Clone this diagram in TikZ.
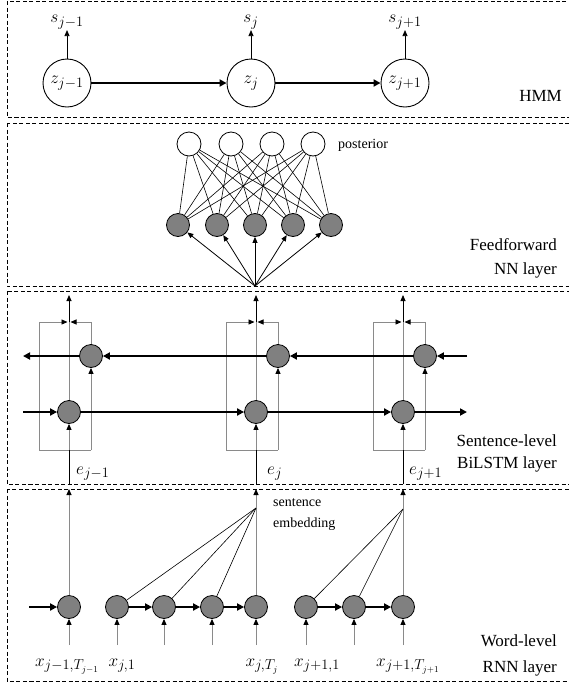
\documentclass[tikz,border=0pt]{standalone}
\usepackage{fontspec}
\setmainfont{Liberation Serif}
\usetikzlibrary{arrows.meta}
\definecolor{nodegray}{HTML}{808080}
\definecolor{linegray}{HTML}{8A8A8A}
\begin{document}
\begin{tikzpicture}[x=1pt,y=-1pt,
  layerbox/.style={draw, dash pattern=on 4pt off 2.5pt, line width=0.8pt},
  hmmnode/.style={circle, draw, line width=0.9pt, minimum size=48pt, inner sep=0pt, font=\fontsize{19}{22}\selectfont},
  gnode/.style={circle, draw, line width=0.8pt, fill=nodegray, minimum size=23pt, inner sep=0pt},
  wnode/.style={circle, draw, line width=0.8pt, fill=white, minimum size=24pt, inner sep=0pt},
  bigtxt/.style={font=\fontsize{17}{20}\selectfont, inner sep=0pt},
  smalltxt/.style={font=\fontsize{14}{17}\selectfont, inner sep=0pt},
  mlbl/.style={font=\fontsize{19}{22}\selectfont, inner sep=1pt},
  thickarr/.style={line width=2.4pt, -{Triangle[length=7pt,width=7pt]}},
  thinarr/.style={line width=0.8pt, -{Triangle[length=6pt,width=5pt,color=black]}},
  grayarr/.style={draw=linegray, line width=0.9pt, -{Triangle[length=6pt,width=5pt,color=black]}},
  grayline/.style={draw=linegray, line width=0.9pt},
  blkline/.style={line width=0.9pt},
  fanline/.style={line width=0.6pt},
]
\useasboundingbox (0,0) rectangle (569,683);

% layer boxes
\draw[layerbox] (7,1) rectangle (580,117);
\draw[layerbox] (7,123) rectangle (580,286);
\draw[layerbox] (7,291) rectangle (580,484);
\draw[layerbox] (7,489) rectangle (580,681);

% ---------------- HMM ----------------
\node[hmmnode] (z1) at (67,83) {$z_{j-1}$};
\node[hmmnode] (z2) at (251,83) {$z_j$};
\node[hmmnode] (z3) at (405,83) {$z_{j+1}$};
\node[mlbl] (s1) at (67,22) {$s_{j-1}$};
\node[mlbl] (s2) at (251,22) {$s_j$};
\node[mlbl] (s3) at (405,22) {$s_{j+1}$};
\draw[thinarr] (z1) -- (s1);
\draw[thinarr] (z2) -- (s2);
\draw[thinarr] (z3) -- (s3);
\draw[thickarr] (z1) -- (z2);
\draw[thickarr] (z2) -- (z3);
\node[bigtxt, anchor=base east] (hmm) at (562,101) {HMM};

% ---------------- Feedforward ----------------
\foreach \i/\x in {1/189,2/231,3/272,4/313} \node[wnode] (p\i) at (\x,144) {};
\foreach \i/\x in {1/178,2/217,3/255,4/293,5/331} \node[gnode] (h\i) at (\x,225) {};
\foreach \i in {1,...,4} \foreach \k in {1,...,5} \draw[fanline] (p\i) -- (h\k);
\coordinate (ffin) at (255,286);
\foreach \k in {1,...,5} \draw[thinarr] (ffin) -- (h\k);
\node[smalltxt, anchor=base west] (post) at (338,148) {posterior};
\node[bigtxt, anchor=base east] (ff1) at (557,250) {Feedforward};
\node[bigtxt, anchor=base east] (ff2) at (557,274) {NN layer};

% ---------------- BiLSTM ----------------
\foreach \c/\n in {69/1,256/2,403/3} {
  \coordinate (top\n) at (\c,295);
  \coordinate (tl\n) at (\c-30,322);
  \coordinate (tml\n) at (\c-1.5,322);
  \coordinate (tmr\n) at (\c+1.5,322);
  \coordinate (tm\n) at (\c,322);
  \coordinate (tr\n) at (\c+22,322);
  \coordinate (bl\n) at (\c-30,450);
  \coordinate (bm\n) at (\c,450);
  \coordinate (br\n) at (\c+22,450);
  \coordinate (in\n) at (\c,484);
  \node[gnode] (F\n) at (\c,412) {};
  \node[gnode] (B\n) at (\c+22,356) {};
}
\foreach \n in {1,2,3} {
  \draw[grayline] (bm\n) -- (bl\n) -- (tl\n);
  \draw[grayarr] (tl\n) -- (tml\n);
  \draw[grayline] (bm\n) -- (br\n);
  \draw[grayarr] (br\n) -- (B\n);
  \draw[grayline] (B\n) -- (tr\n);
  \draw[grayarr] (tr\n) -- (tmr\n);
  \draw[grayline] (F\n) -- (tm\n);
  \draw[thinarr] (tm\n) -- (top\n);
  \draw[blkline] (in\n) -- (bm\n);
  \draw[grayarr] (bm\n) -- (F\n);
}
\coordinate (bwR) at (467,356);
\coordinate (bwL) at (23,356);
\coordinate (fwL) at (23,412);
\coordinate (fwR) at (467,412);
\draw[thickarr] (bwR) -- (B3);
\draw[thickarr] (B3) -- (B2);
\draw[thickarr] (B2) -- (B1);
\draw[thickarr] (B1) -- (bwL);
\draw[thickarr] (fwL) -- (F1);
\draw[thickarr] (F1) -- (F2);
\draw[thickarr] (F2) -- (F3);
\draw[thickarr] (F3) -- (fwR);
\node[mlbl, anchor=base west] (e1) at (75,474) {$e_{j-1}$};
\node[mlbl, anchor=base west] (e2) at (266,474) {$e_j$};
\node[mlbl, anchor=base west] (e3) at (408,474) {$e_{j+1}$};
\node[bigtxt, anchor=base east] (bl1) at (557,446) {Sentence-level};
\node[bigtxt, anchor=base east] (bl2) at (557,468) {BiLSTM layer};

% ---------------- Word-level ----------------
\foreach \i/\x in {1/69,2/117,3/164,4/212,5/256,6/306,7/354,8/403} {
  \node[gnode] (w\i) at (\x,607) {};
  \coordinate (x\i) at (\x,645);
}
\foreach \i in {1,...,8} \draw[grayarr] (x\i) -- (w\i);
\coordinate (wl) at (29,607);
\draw[thickarr] (wl) -- (w1);
\draw[thickarr] (w2) -- (w3);
\draw[thickarr] (w3) -- (w4);
\draw[thickarr] (w4) -- (w5);
\draw[thickarr] (w6) -- (w7);
\draw[thickarr] (w7) -- (w8);
\coordinate (se2) at (256,508);
\coordinate (se3) at (403,509);
\coordinate (up1) at (69,489);
\coordinate (up2) at (256,489);
\coordinate (up3) at (403,489);
\draw[grayarr] (w1) -- (up1);
\draw[grayarr] (w5) -- (up2);
\draw[grayarr] (w8) -- (up3);
\draw[fanline] (w2) -- (se2);
\draw[fanline] (w3) -- (se2);
\draw[fanline] (w4) -- (se2);
\draw[fanline] (w6) -- (se3);
\draw[fanline] (w7) -- (se3);
\node[mlbl, anchor=base] (xl1) at (67,666) {$x_{j-1,T_{j-1}}$};
\node[mlbl, anchor=base] (xl2) at (122,666) {$x_{j,1}$};
\node[mlbl, anchor=base] (xl5) at (262,666) {$x_{j,T_j}$};
\node[mlbl, anchor=base] (xl6) at (317,666) {$x_{j+1,1}$};
\node[mlbl, anchor=base] (xl8) at (408,666) {$x_{j+1,T_{j+1}}$};
\node[smalltxt, anchor=base west] (sent) at (273,506) {sentence};
\node[smalltxt, anchor=base west] (emb) at (273,527) {embedding};
\node[bigtxt, anchor=base east] (wl1) at (557,646) {Word-level};
\node[bigtxt, anchor=base east] (wl2) at (557,672) {RNN layer};
\end{tikzpicture}
\end{document}
